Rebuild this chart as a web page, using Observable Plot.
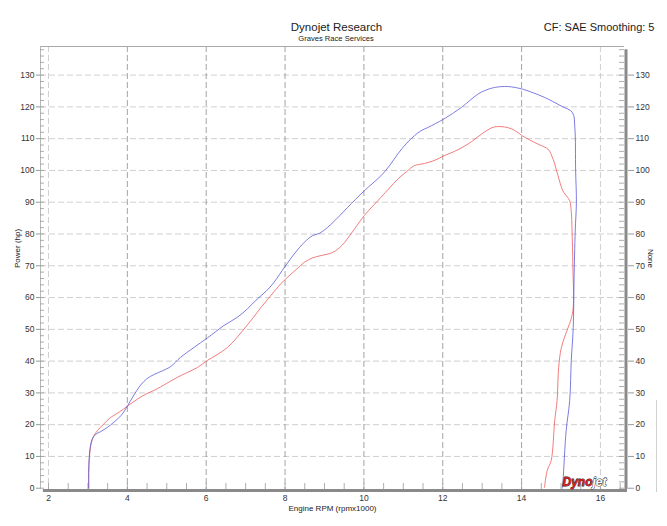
<!DOCTYPE html>
<html>
<head>
<meta charset="utf-8">
<script src="https://cdn.jsdelivr.net/npm/d3@7"></script>
<script src="https://cdn.jsdelivr.net/npm/@observablehq/plot@0.6"></script>
<style>
  html, body { margin: 0; padding: 0; background: #fff; }
  #wrap { position: relative; width: 667px; height: 526px; }
  #edge { position: absolute; left: 656px; top: 400px; width: 1px; height: 92px; background: #d0d0d0; }
  svg text { font-family: "Liberation Sans", Arial, sans-serif; }
</style>
</head>
<body>
<div id="wrap"><div id="edge"></div></div>
<script>
// ---- data ----
const blueRpm = [3.02,3.02,3.03,3.06,3.11,3.2,3.32,3.5,3.66,3.85,4.0,4.15,4.34,4.5,4.68,4.9,5.1,5.35,5.69,6.03,6.45,6.79,7.05,7.3,7.52,7.72,8.0,8.25,8.49,8.7,8.87,9.08,9.35,9.59,10.01,10.43,10.65,10.86,11.08,11.28,11.45,11.62,12.03,12.47,12.89,13.1,13.31,13.65,14.02,14.3,14.58,15.0,15.29,15.35,15.37,15.39,15.36,15.33,15.31,15.26,15.22,15.13,15.05,15.03];
const bluePower = [0,5,9,13,15.5,17,17.8,19.2,20.8,23,25.8,29,32.5,34.5,35.8,37,38.3,41.2,44.3,47.3,51.2,53.8,56.5,59.6,62,64.8,69.8,74,77.4,79.5,80.2,82.1,85.3,88.4,93.6,98.3,101.5,105.2,108.5,110.9,112.5,113.5,116.2,119.8,124,125.3,126.1,126.4,125.6,124.4,123,120.3,118.2,113.5,100,90,81,65.3,50.6,40.2,27.6,18.1,2.4,0];
const redRpm = [3.02,3.02,3.04,3.08,3.15,3.24,3.4,3.58,3.8,4.0,4.25,4.5,4.68,5.0,5.27,5.5,5.78,6.03,6.3,6.54,6.75,6.96,7.2,7.39,7.65,7.89,8.1,8.3,8.49,8.7,8.91,9.21,9.45,9.67,10.01,10.43,10.65,10.86,11.08,11.28,11.54,11.8,12.03,12.3,12.64,12.98,13.15,13.31,13.65,13.85,14.02,14.33,14.5,14.67,14.8,14.92,15.05,15.15,15.22,15.26,15.28,15.3,15.31,15.25,15.18,15.01,14.94,14.9,14.84,14.75,14.65,14.58];
const redValue = [0,5,10,14,16.5,18.1,20.2,22.3,24,25.8,28,29.8,30.8,33,34.9,36.3,38,40.2,42.2,44.3,47,50.1,53.8,56.9,60.8,64.3,66.8,69,71.1,72.5,73.2,74.2,76.5,80,85.8,91.5,94.5,97.3,99.6,101.5,102.2,103.2,104.6,106,108.3,111.4,112.8,113.7,113.5,112.4,110.9,108.8,107.8,106.7,103.5,98.5,93.5,91.8,90.5,87,81,70,56.9,53,50.6,44.3,38,27.6,21.3,8.7,5.6,0.3];

const xTicks = [2,4,6,8,10,12,14,16];
const xMinor = d3.range(2, 16.51, 0.5);
const yTicks = [0,10,20,30,40,50,60,70,80,90,100,110,120,130];
const yMinor = d3.range(0, 139, 2);
const xDomain = [1.797, 16.61];
const yDomain = [-0.4, 139];

const blue = blueRpm.map((x, i) => ({x, y: bluePower[i]}));
const red = redRpm.map((x, i) => ({x, y: redValue[i]}));

const W = 667, H = 526, mL = 40, mR = 43, mT = 46, mB = 37;
const innerW = W - mL - mR, innerH = H - mT - mB;
const FS = 8.5;

const chart = Plot.plot({
  width: W, height: H,
  marginLeft: mL, marginRight: mR, marginTop: mT, marginBottom: mB,
  x: {domain: xDomain},
  y: {domain: yDomain},
  style: {background: "#fff", color: "#333", fontSize: FS + "px"},
  marks: [
    // grid
    Plot.ruleY(yTicks.filter(d => d > 0), {y: d => d, stroke: "#c4c4c4", strokeDasharray: "6,3", strokeWidth: 0.8}),
    Plot.ruleX(xTicks, {x: d => d, stroke: d => (d === 2 || d === 16) ? "#c4c4c4" : "#8c8c8c", strokeDasharray: "6,3", strokeWidth: 0.8}),
    // frame
    Plot.ruleY([yDomain[1]], {stroke: "#a8a8a8", strokeWidth: 1}),
    Plot.ruleX([xDomain[0]], {stroke: "#b8b8b8", strokeWidth: 1}),
    // minor ticks
    Plot.tickY(yMinor, {y: d => d, insetRight: innerW - 4, stroke: "#999", strokeWidth: 0.8}),
    Plot.tickY(yMinor, {y: d => d, insetLeft: innerW - 5, stroke: "#999", strokeWidth: 0.8}),
    Plot.tickX(xMinor, {x: d => d, insetTop: innerH - 6, stroke: "#999", strokeWidth: 0.8}),
    // curves
    Plot.line(red, {x: "x", y: "y", stroke: "#ee5c5c", strokeWidth: 0.8, curve: "catmull-rom"}),
    Plot.line(blue, {x: "x", y: "y", stroke: "#5a5ad8", strokeWidth: 0.8, curve: "catmull-rom"}),
    // thick right & bottom bars
    Plot.ruleX([xDomain[1]], {y1: yDomain[0], y2: 138, stroke: "#8a8a8a", strokeWidth: 3, dx: 1.5}),
    Plot.ruleY([yDomain[0]], {x1: 1.87, x2: xDomain[1], stroke: "#8a8a8a", strokeWidth: 3, dy: 1, insetRight: -3}),
    // axes
    Plot.axisY(yTicks, {anchor: "left", tickSize: 4, tickPadding: 2, stroke: "#999", label: null, fontSize: FS}),
    Plot.axisY(yTicks, {anchor: "right", tickSize: 6, tickPadding: 2, stroke: "#999", label: null, fontSize: FS, dx: 3}),
    Plot.axisX(xTicks, {anchor: "bottom", tickSize: 0, tickPadding: 5, label: null, fontSize: FS}),
    // axis labels
    Plot.text(["Engine RPM (rpmx1000)"], {frameAnchor: "bottom", dy: 21, lineAnchor: "bottom", fontSize: 8, fill: "#222"}),
    Plot.text(["Power (hp)"], {frameAnchor: "left", dx: -23, rotate: -90, fontSize: 8, fill: "#222"}),
    Plot.text(["None"], {frameAnchor: "right", dx: 26, rotate: 90, fontSize: 8, fill: "#222"}),
    // titles
    Plot.text(["Dynojet Research"], {frameAnchor: "top", dx: 4, dy: -15.3, lineAnchor: "bottom", fontSize: 11.5, fill: "#222"}),
    Plot.text(["Graves Race Services"], {frameAnchor: "top", dx: 3.5, dy: -5.3, lineAnchor: "bottom", fontSize: 7.6, fill: "#222"}),
    Plot.text(["CF: SAE Smoothing: 5"], {frameAnchor: "top-right", dx: 30, dy: -15.3, lineAnchor: "bottom", textAnchor: "end", fontSize: 11, fill: "#222"}),
    // logo
    Plot.text(["Dyno"], {frameAnchor: "bottom-right", dx: -32, dy: -4, lineAnchor: "bottom", textAnchor: "end", fontSize: 12, fontWeight: "bold", fontStyle: "italic", fill: "#d81e1e", stroke: "#222", strokeWidth: 0.8}),
    Plot.text(["jet"], {frameAnchor: "bottom-right", dx: -32, dy: -4, lineAnchor: "bottom", textAnchor: "start", fontSize: 12, fontWeight: "bold", fontStyle: "italic", fill: "#fff", stroke: "#222", strokeWidth: 0.9})
  ]
});
document.getElementById("wrap").prepend(chart);
</script>
</body>
</html>
